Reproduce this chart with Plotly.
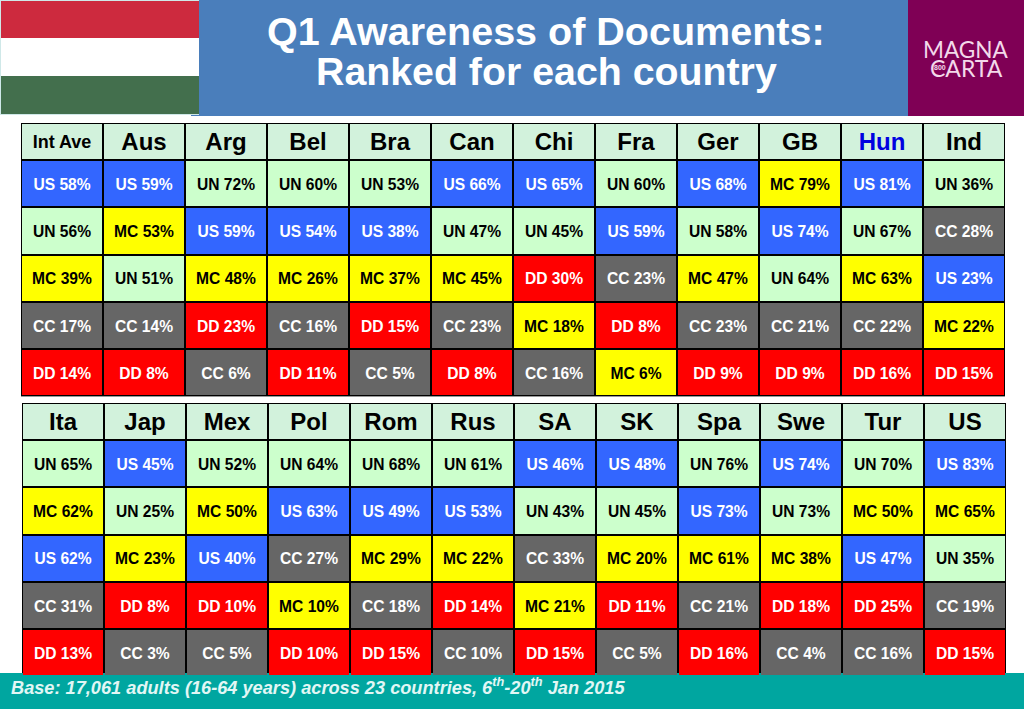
import plotly.graph_objects as go

W, H = 1024, 709

top_countries = ["Int Ave","Aus","Arg","Bel","Bra","Can","Chi","Fra","Ger","GB","Hun","Ind"]
top_codes = [
    ["US","US","UN","UN","UN","US","US","UN","US","MC","US","UN"],
    ["UN","MC","US","US","US","UN","UN","US","UN","US","UN","CC"],
    ["MC","UN","MC","MC","MC","MC","DD","CC","MC","UN","MC","US"],
    ["CC","CC","DD","CC","DD","CC","MC","DD","CC","CC","CC","MC"],
    ["DD","DD","CC","DD","CC","DD","CC","MC","DD","DD","DD","DD"],
]
top_values = [
    [58,59,72,60,53,66,65,60,68,79,81,36],
    [56,53,59,54,38,47,45,59,58,74,67,28],
    [39,51,48,26,37,45,30,23,47,64,63,23],
    [17,14,23,16,15,23,18,8,23,21,22,22],
    [14,8,6,11,5,8,16,6,9,9,16,15],
]
bottom_countries = ["Ita","Jap","Mex","Pol","Rom","Rus","SA","SK","Spa","Swe","Tur","US"]
bottom_codes = [
    ["UN","US","UN","UN","UN","UN","US","US","UN","US","UN","US"],
    ["MC","UN","MC","US","US","US","UN","UN","US","UN","MC","MC"],
    ["US","MC","US","CC","MC","MC","CC","MC","MC","MC","US","UN"],
    ["CC","DD","DD","MC","CC","DD","MC","DD","CC","DD","DD","CC"],
    ["DD","CC","CC","DD","DD","CC","DD","CC","DD","CC","CC","DD"],
]
bottom_values = [
    [65,45,52,64,68,61,46,48,76,74,70,83],
    [62,25,50,63,49,53,43,45,73,73,50,65],
    [62,23,40,27,29,22,33,20,61,38,47,35],
    [31,8,10,10,18,14,21,11,21,18,25,19],
    [13,3,5,10,15,10,15,5,16,4,16,15],
]

FILL = {"US":"#3366FF","UN":"#CCFFCC","MC":"#FFFF00","CC":"#666666","DD":"#FF0000","HD":"#D2F2DC"}
INK = {"US":"#FFFFFF","UN":"#000000","MC":"#000000","CC":"#FFFFFF","DD":"#FFFFFF"}
ORDER = ["US","UN","MC","CC","DD","HD"]
FONT = "Liberation Sans"
n = len(ORDER)
colorscale = []
for i, c in enumerate(ORDER):
    colorscale += [[i / n, FILL[c]], [(i + 1) / n, FILL[c]]]

ROW_EDGES = [0, 37, 84.4, 131.8, 179.2, 226.4, 273.4]
HEAD_DROP = 2
CELL_DROP = 2


def px_x(v):
    return v / W


def px_y(v):
    return 1 - v / H


def panel(fig, countries, codes, values, xa, ya):
    ncol = len(countries)
    z = [[ORDER.index("HD")] * ncol] + [[ORDER.index(c) for c in row] for row in codes]
    fig.add_trace(go.Heatmap(
        z=z, x=list(range(ncol + 1)), y=ROW_EDGES, colorscale=colorscale,
        zmin=-0.5, zmax=n - 0.5, showscale=False, xgap=2, ygap=2,
        hoverinfo="skip", xaxis=xa, yaxis=ya))
    xs, ys, texts, inks, sizes = [], [], [], [], []
    for j, name in enumerate(countries):
        xs.append(j + 0.5)
        ys.append((ROW_EDGES[0] + ROW_EDGES[1]) / 2 + HEAD_DROP)
        texts.append(name)
        inks.append("#0000E0" if name == "Hun" else "#000000")
        sizes.append(18 if name == "Int Ave" else 24)
    for i, row in enumerate(codes):
        for j, code in enumerate(row):
            xs.append(j + 0.5)
            ys.append((ROW_EDGES[i + 1] + ROW_EDGES[i + 2]) / 2 + CELL_DROP)
            texts.append(f"{code} {values[i][j]}%")
            inks.append(INK[code])
            sizes.append(15.6)
    fig.add_trace(go.Scatter(
        x=xs, y=ys, text=[f"<b>{t}</b>" for t in texts], mode="text",
        textposition="middle center",
        textfont=dict(family=FONT, color=inks, size=sizes),
        hoverinfo="skip", showlegend=False, xaxis=xa, yaxis=ya))


fig = go.Figure()
panel(fig, top_countries, top_codes, top_values, "x", "y")
panel(fig, bottom_countries, bottom_codes, bottom_values, "x2", "y2")

hidden = dict(showgrid=False, zeroline=False, showticklabels=False, ticks="", fixedrange=True)
shapes = []


def rect(x0, y0, x1, y1, color):
    shapes.append(dict(type="rect", xref="paper", yref="paper", layer="below",
                       x0=px_x(x0), x1=px_x(x1), y0=px_y(y1), y1=px_y(y0),
                       fillcolor=color, line=dict(width=0)))


rect(191, 0, 908, 116, "#4A7EBB")
rect(908, 0, 1024, 116, "#7F0055")
rect(0, 0, 199, 115, "#CFE8E8")
rect(1, 1, 199, 38, "#CD2A3E")
rect(1, 38, 199, 76, "#FFFFFF")
rect(1, 76, 199, 114, "#436F4D")
rect(0, 673, 1024, 709, "#00A6A0")

annotations = [
    dict(text="<b>Q1 Awareness of Documents:</b>", x=px_x(546), y=px_y(30.5), font=dict(family=FONT, size=39.5, color="#FFFFFF")),
    dict(text="<b>Ranked for each country</b>", x=px_x(546), y=px_y(71), font=dict(family=FONT, size=39.3, color="#FFFFFF")),
    dict(text="MAGNA", x=px_x(966), y=px_y(49), font=dict(family="Lato", size=22.6, color="#F3D9EA")),
    dict(text="CARTA", x=px_x(966), y=px_y(68), font=dict(family="Lato", size=23, color="#F3D9EA")),
    dict(text="<b>800</b>", x=px_x(940), y=px_y(68), font=dict(family=FONT, size=7, color="#F3D9EA")),
    dict(text="<b><i>Base: 17,061 adults (16-64 years) across 23 countries, 6<sup>th</sup>-20<sup>th</sup> Jan 2015</i></b>",
         x=px_x(9), y=px_y(685.5), xanchor="left", font=dict(family=FONT, size=18.2, color="#E2F7F5")),
]
for a in annotations:
    a.update(xref="paper", yref="paper", showarrow=False)
    a.setdefault("xanchor", "center")
    a.setdefault("yanchor", "middle")

fig.update_layout(
    width=W, height=H, margin=dict(l=0, r=0, t=0, b=0, pad=0),
    paper_bgcolor="#FFFFFF", plot_bgcolor="#000000", showlegend=False,
    shapes=shapes, annotations=annotations,
    xaxis=dict(domain=[px_x(21), px_x(1005)], range=[0, 12], **hidden),
    yaxis=dict(domain=[px_y(396.4), px_y(123)], range=[273.4, 0], **hidden),
    xaxis2=dict(domain=[px_x(22), px_x(1006)], range=[0, 12], anchor="y2", **hidden),
    yaxis2=dict(domain=[px_y(676.4), px_y(403)], range=[273.4, 0], anchor="x2", **hidden),
)
fig.write_html("out.html", config=dict(displayModeBar=False),
               post_script="document.body.style.margin='0';")
